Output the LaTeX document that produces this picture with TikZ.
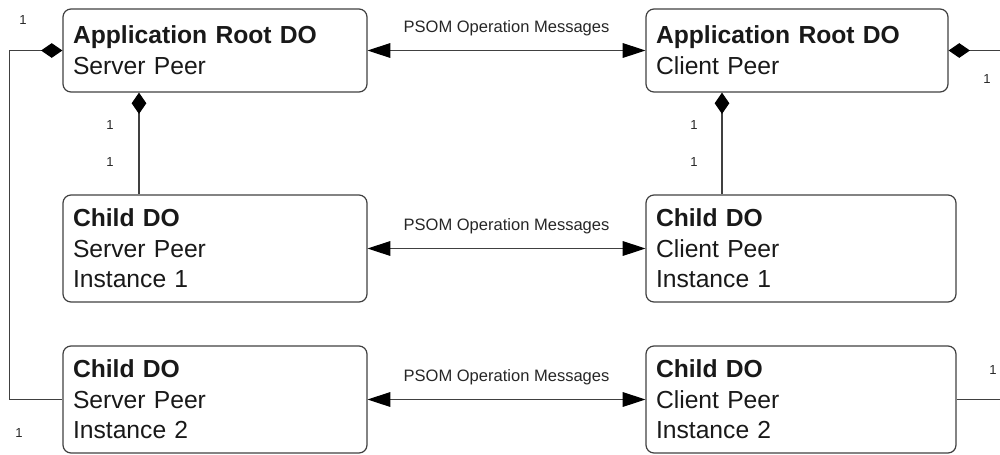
\documentclass[tikz,border=0pt]{standalone}
\usepackage{fontspec}
\setmainfont{Liberation Sans}
\usetikzlibrary{positioning, arrows.meta}

\begin{document}
\begin{tikzpicture}[x=0.75pt, y=-0.75pt,
    dobox/.style={draw=black!75, line width=0.9pt, rounded corners=6pt, inner xsep=7.5pt, inner ysep=0pt, align=left, text=black!90, font=\fontsize{18.5}{23}\selectfont},
    link/.style={draw=black!75, line width=0.8pt},
    msgline/.style={link, {Triangle[length=17pt, width=11pt, color=black]}-{Triangle[length=17pt, width=11pt, color=black]}},
    comp/.style={link, {Diamond[length=16pt, width=11pt, color=black]}-},
    msg/.style={inner sep=0pt, text=black!85, font=\fontsize{12.4}{14}\selectfont},
    mult/.style={inner sep=0pt, text=black!85, font=\fontsize{9.8}{12}\selectfont}]
    \useasboundingbox (0,0) rectangle (1000,454);

    % data objects
    \node[dobox, text width=213pt, minimum height=62.25pt] (rootS) at (215, 50.5) {\textbf{Application Root DO}\\Server Peer};
    \node[dobox, text width=211.5pt, minimum height=62.25pt] (rootC) at (797, 50.5) {\textbf{Application Root DO}\\Client Peer};
    \node[dobox, text width=213pt, minimum height=80.25pt] (childSA) at (215, 248.5) {\textbf{Child DO}\\Server Peer\\Instance 1};
    \node[dobox, text width=217.5pt, minimum height=80.25pt] (childCA) at (801, 248.5) {\textbf{Child DO}\\Client Peer\\Instance 1};
    \node[dobox, text width=213pt, minimum height=80.25pt] (childSB) at (215, 399.5) {\textbf{Child DO}\\Server Peer\\Instance 2};
    \node[dobox, text width=217.5pt, minimum height=80.25pt] (childCB) at (801, 399.5) {\textbf{Child DO}\\Client Peer\\Instance 2};

    \coordinate (lx) at (139, 0);
    \coordinate (rx) at (722, 0);
    \coordinate (edge) at (1000, 0);

    % messages
    \draw[msgline] (rootS) -- node[msg, above=10.5pt] {PSOM Operation Messages} (rootC);
    \draw[msgline] (childSA) -- node[msg, above=10.5pt] {PSOM Operation Messages} (childCA);
    \draw[msgline] (childSB) -- node[msg, above=10.5pt] {PSOM Operation Messages} (childCB);

    % composition
    \draw[comp] (rootS.south -| lx) -- (childSA.north -| lx);
    \draw[comp] (rootC.south -| rx) -- (childCA.north -| rx);
    \draw[comp] (rootS.west) -- ++(-53, 0) |- (childSB.west);
    \draw[comp] (rootC.east) -- (rootC.east -| edge);
    \draw[link] (childCB.east) -- (childCB.east -| edge);

    % multiplicities
    \node[mult] (m1) at (23, 20) {1};
    \node[mult] (m2) at (110, 125) {1};
    \node[mult] (m3) at (110, 162) {1};
    \node[mult] (m4) at (694, 125) {1};
    \node[mult] (m5) at (694, 162) {1};
    \node[mult] (m6) at (987, 79) {1};
    \node[mult] (m7) at (19, 433) {1};
    \node[mult] (m8) at (993, 370) {1};
\end{tikzpicture}
\end{document}
